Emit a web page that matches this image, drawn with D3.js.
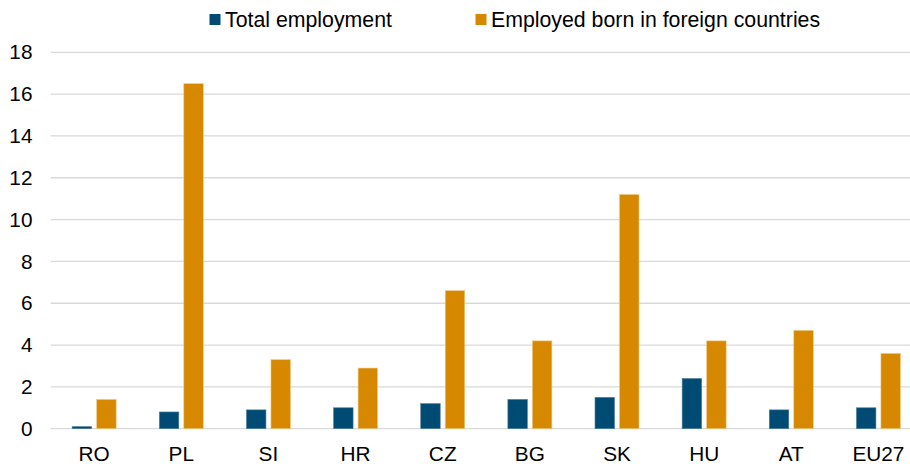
<!DOCTYPE html>
<html>
<head>
<meta charset="utf-8">
<script src="https://cdn.jsdelivr.net/npm/d3@7/dist/d3.min.js"></script>
<style>
  html, body { margin: 0; padding: 0; background: #fff; }
  svg { display: block; font-family: "Liberation Sans", Arial, sans-serif; }
</style>
</head>
<body>
<svg id="chart" width="910" height="464"></svg>
<script>
const categories = ["RO", "PL", "SI", "HR", "CZ", "BG", "SK", "HU", "AT", "EU27"];
const totalEmployment = [0.1, 0.8, 0.9, 1.0, 1.2, 1.4, 1.5, 2.4, 0.9, 1.0];
const foreignBorn = [1.4, 16.5, 3.3, 2.9, 6.6, 4.2, 11.2, 4.2, 4.7, 3.6];
const seriesNames = ["Total employment", "Employed born in foreign countries"];
const seriesColors = ["#004b73", "#d68900"];
const yTicks = [0, 2, 4, 6, 8, 10, 12, 14, 16, 18];

const svg = d3.select("#chart");
const plotLeft = 50.6, plotRight = 922, yTop = 52.3, yBottom = 428.7;

const x0 = d3.scaleBand().domain(categories).range([plotLeft, plotRight]).padding(0);
const step = x0.bandwidth();
const x1 = d3.scaleBand().domain([0, 1])
  .range([(step - 44) / 2, (step + 44) / 2]).paddingInner(0.204).paddingOuter(0);
const y = d3.scaleLinear().domain([0, 18]).range([yBottom, yTop]);

// gridlines
svg.append("g").selectAll("line").data(yTicks).join("line")
  .attr("x1", plotLeft).attr("x2", 910)
  .attr("y1", d => y(d)).attr("y2", d => y(d))
  .attr("stroke", "#d9d9d9").attr("stroke-width", 1.3);

// y axis labels
const yAxis = d3.axisLeft(y).tickValues(yTicks).tickSize(0).tickPadding(0);
const gy = svg.append("g").attr("transform", "translate(32.5,0)").call(yAxis);
gy.select(".domain").remove();
gy.selectAll("text").attr("font-size", 20.8).attr("fill", "#000")
  .attr("font-family", "Liberation Sans, Arial, sans-serif");

// x axis labels
const xAxis = d3.axisBottom(x0).tickSize(0).tickPadding(0);
const gx = svg.append("g").attr("transform", "translate(0,0)").call(xAxis);
gx.select(".domain").remove();
gx.selectAll("text").attr("font-size", 20.8).attr("fill", "#000")
  .attr("font-family", "Liberation Sans, Arial, sans-serif")
  .attr("y", 460.7).attr("dy", null);

// bars
const series = [totalEmployment, foreignBorn];
const groups = svg.append("g").selectAll("g").data(categories).join("g")
  .attr("transform", d => `translate(${x0(d)},0)`);
groups.selectAll("rect").data((d, i) => series.map((s, k) => ({k, v: s[i]}))).join("rect")
  .attr("x", d => x1(d.k))
  .attr("width", x1.bandwidth())
  .attr("y", d => y(d.v))
  .attr("height", d => y(0) - y(d.v))
  .attr("fill", d => seriesColors[d.k])
  .attr("stroke", d => d.k === 0 ? "#4f7f9c" : "#f0c880")
  .attr("stroke-width", 0.6);

// legend
const legendX = [209.5, 475.5];
const legend = svg.append("g");
seriesNames.forEach((name, k) => {
  legend.append("rect").attr("x", legendX[k]).attr("y", 14)
    .attr("width", 11).attr("height", 11).attr("fill", seriesColors[k]);
  legend.append("text").attr("x", legendX[k] + 15.5).attr("y", 26.9)
    .attr("font-size", 21.3).attr("fill", "#000").text(name);
});
</script>
</body>
</html>
